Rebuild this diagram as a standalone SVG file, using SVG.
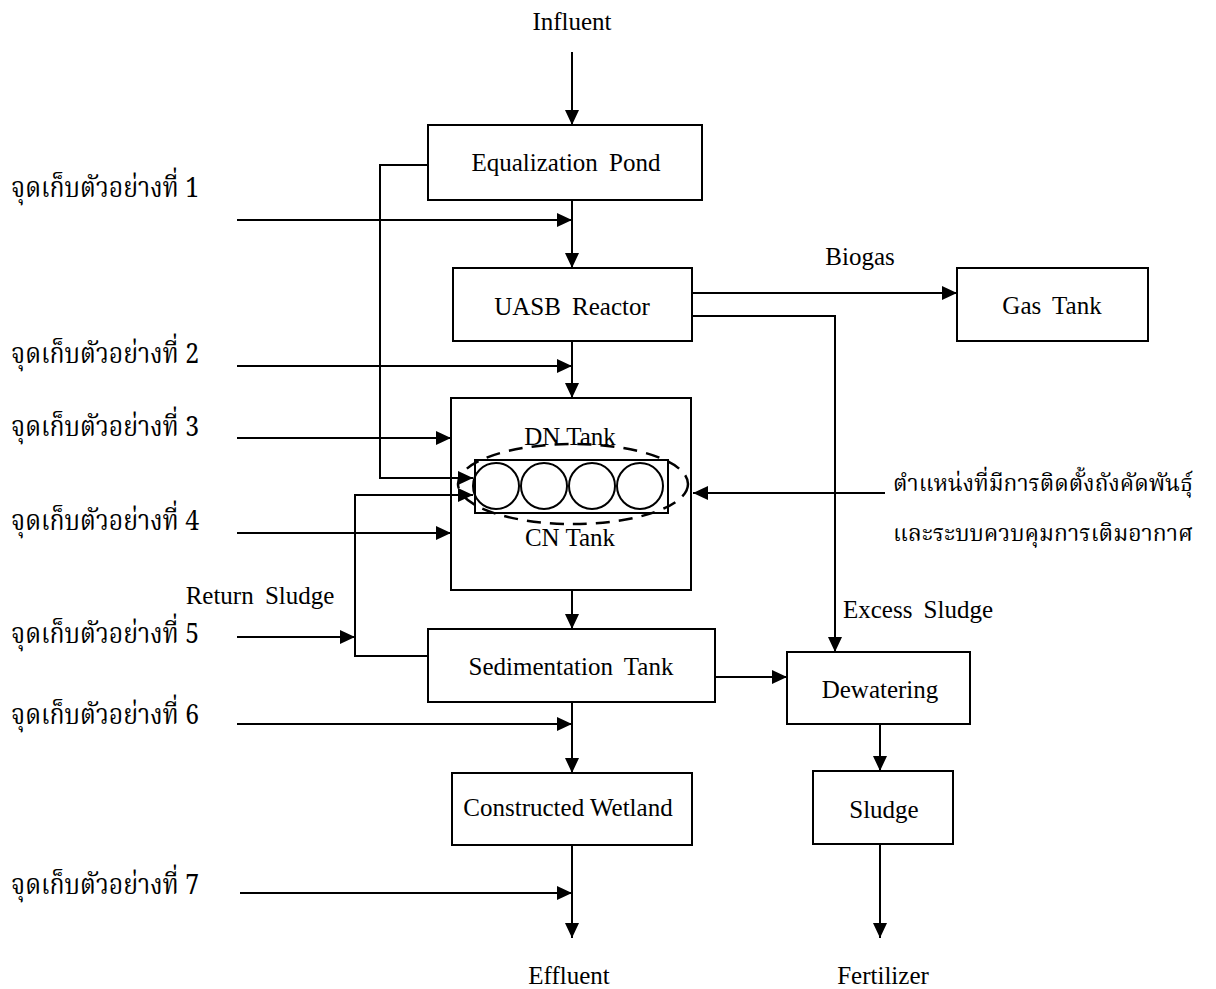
<svg xmlns="http://www.w3.org/2000/svg" width="1216" height="989" viewBox="0 0 1216 989">
<defs>
<marker id="ah" markerUnits="userSpaceOnUse" markerWidth="16" markerHeight="14" refX="15" refY="7" orient="auto">
<path d="M0,0 L15,7 L0,14 Z" fill="#000"/>
</marker>
<style>
.box{fill:#fff;stroke:#000;stroke-width:2}
.ln{fill:none;stroke:#000;stroke-width:2}
.ar{fill:none;stroke:#000;stroke-width:2;marker-end:url(#ah)}
.t{font-family:"Liberation Serif","Times New Roman",serif;font-size:25px;fill:#000;text-anchor:middle;word-spacing:5px}
.th{font-family:"Noto Serif Thai","Noto Sans Thai Looped","Norasi","Garuda","Loma","Noto Sans Thai","Noto Sans",sans-serif;font-size:28px;fill:#000}
.thr{font-family:"Noto Serif Thai","Noto Sans Thai Looped","Norasi","Garuda","Loma","Noto Sans Thai","Noto Sans",sans-serif;font-size:23px;fill:#000}
</style>
</defs>
<rect width="1216" height="989" fill="#fff"/>

<g id="equalization">
<rect class="box" x="428" y="125" width="274" height="75"/>
<text class="t" x="566" y="171">Equalization Pond</text>
</g>
<g id="uasb">
<rect class="box" x="453" y="268" width="239" height="73"/>
<text class="t" x="572" y="315">UASB Reactor</text>
</g>
<g id="gastank">
<rect class="box" x="957" y="268" width="191" height="73"/>
<text class="t" x="1052" y="314">Gas Tank</text>
</g>
<g id="dncn">
<rect class="box" x="451" y="398" width="240" height="192"/>
<rect class="ln" x="475" y="460" width="193" height="53"/>
<circle class="ln" cx="496" cy="486" r="23"/>
<circle class="ln" cx="544" cy="486" r="23"/>
<circle class="ln" cx="592" cy="486" r="23"/>
<circle class="ln" cx="640" cy="486" r="23"/>
<ellipse cx="573" cy="484" rx="115" ry="40" fill="none" stroke="#000" stroke-width="2.5" stroke-dasharray="14,9"/>
<text class="t" x="570" y="445" style="word-spacing:0">DN Tank</text>
<text class="t" x="570" y="546" style="word-spacing:0">CN Tank</text>
</g>
<g id="sedimentation">
<rect class="box" x="428" y="629" width="287" height="73"/>
<text class="t" x="571" y="675">Sedimentation Tank</text>
</g>
<g id="dewatering">
<rect class="box" x="787" y="652" width="183" height="72"/>
<text class="t" x="880" y="698">Dewatering</text>
</g>
<g id="wetland">
<rect class="box" x="452" y="773" width="240" height="72"/>
<text class="t" x="568" y="816" style="word-spacing:0">Constructed Wetland</text>
</g>
<g id="sludge">
<rect class="box" x="813" y="771" width="140" height="73"/>
<text class="t" x="884" y="818">Sludge</text>
</g>

<g id="connectors">
<path class="ar" d="M572,52 V125"/>
<path class="ar" d="M572,200 V268"/>
<path class="ar" d="M572,341 V398"/>
<path class="ar" d="M572,590 V629"/>
<path class="ar" d="M572,702 V773"/>
<path class="ar" d="M572,845 V938"/>
<path class="ar" d="M692,293 H957"/>
<path class="ar" d="M692,316 H835 V652"/>
<path class="ar" d="M715,677 H787"/>
<path class="ar" d="M880,724 V771"/>
<path class="ar" d="M880,844 V938"/>
<path class="ar" d="M428,165 H380 V478 H473"/>
<path class="ar" d="M428,656 H355 V495 H473"/>
<path class="ar" d="M885,493 H693"/>
<path class="ar" d="M237,220 H572"/>
<path class="ar" d="M237,366 H572"/>
<path class="ar" d="M237,438 H451"/>
<path class="ar" d="M237,533 H451"/>
<path class="ar" d="M237,637 H355"/>
<path class="ar" d="M237,724 H572"/>
<path class="ar" d="M240,893 H572"/>
</g>

<g id="labels">
<text class="t" x="572" y="30">Influent</text>
<text class="t" x="860" y="265">Biogas</text>
<text class="t" x="918" y="618">Excess Sludge</text>
<text class="t" x="260" y="604">Return Sludge</text>
<text class="t" x="569" y="984">Effluent</text>
<text class="t" x="883" y="984">Fertilizer</text>
<text class="th" x="11" y="197" textLength="188" lengthAdjust="spacingAndGlyphs">จุดเก็บตัวอย่างที่ 1</text>
<text class="th" x="11" y="363" textLength="188" lengthAdjust="spacingAndGlyphs">จุดเก็บตัวอย่างที่ 2</text>
<text class="th" x="11" y="436" textLength="188" lengthAdjust="spacingAndGlyphs">จุดเก็บตัวอย่างที่ 3</text>
<text class="th" x="11" y="530" textLength="188" lengthAdjust="spacingAndGlyphs">จุดเก็บตัวอย่างที่ 4</text>
<text class="th" x="11" y="643" textLength="188" lengthAdjust="spacingAndGlyphs">จุดเก็บตัวอย่างที่ 5</text>
<text class="th" x="11" y="724" textLength="188" lengthAdjust="spacingAndGlyphs">จุดเก็บตัวอย่างที่ 6</text>
<text class="th" x="11" y="894" textLength="188" lengthAdjust="spacingAndGlyphs">จุดเก็บตัวอย่างที่ 7</text>
<text class="thr" x="893" y="491" textLength="300" lengthAdjust="spacingAndGlyphs">ตำแหน่งที่มีการติดตั้งถังคัดพันธุ์</text>
<text class="thr" x="893" y="541" textLength="300" lengthAdjust="spacingAndGlyphs">และระบบควบคุมการเติมอากาศ</text>
</g>
</svg>
